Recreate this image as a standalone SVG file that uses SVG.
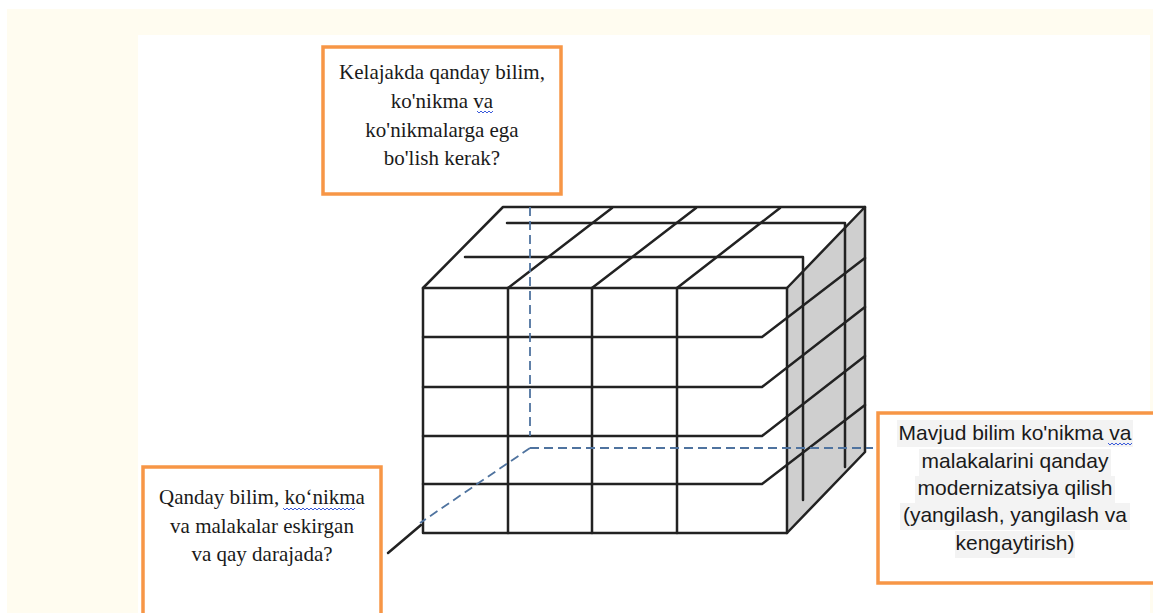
<svg xmlns="http://www.w3.org/2000/svg" width="1153" height="613" viewBox="0 0 1153 613">
<style>
.box{fill:#ffffff;stroke:#f79646;stroke-width:3.5}
.serif{font-family:"Liberation Serif","Times New Roman",serif;font-size:21px;fill:#1a1a1a;text-anchor:middle}
.sans{font-family:"Liberation Sans",Arial,sans-serif;font-size:21px;fill:#1a1a1a;text-anchor:middle}
.edge{fill:none;stroke:#222;stroke-width:2.5;stroke-linejoin:round;stroke-linecap:round}
.dash{fill:none;stroke:#4f739f;stroke-width:1.8;stroke-dasharray:9 5}
.squig{fill:none;stroke:#3b5bdb;stroke-width:1}
.hl{fill:#f3f3f3}
</style>
<rect x="0" y="0" width="1153" height="613" fill="#ffffff"/>
<rect x="7" y="9" width="1146" height="604" fill="#fffcf0"/>
<rect x="138" y="35" width="1012" height="578" fill="#ffffff"/>

<g id="cube">
<polygon points="787,288 865,207 865,452 787,533" fill="#cfcfcf"/>
<polyline class="edge" points="423,288 503,207 865,207 787,288"/>
<line class="edge" x1="508" y1="288" x2="612" y2="208"/>
<line class="edge" x1="592" y1="288" x2="696" y2="208"/>
<line class="edge" x1="677" y1="288" x2="780" y2="208"/>
<polyline class="edge" points="507,223 845,223 845,467"/>
<polyline class="edge" points="465,257 803,257 803,500"/>
<rect class="edge" x="423" y="288" width="364" height="245"/>
<line class="edge" x1="508" y1="288" x2="508" y2="533"/>
<line class="edge" x1="592" y1="288" x2="592" y2="533"/>
<line class="edge" x1="677" y1="288" x2="677" y2="533"/>
<polyline class="edge" points="423,337 762,337 865,258"/>
<polyline class="edge" points="423,387 762,387 865,307"/>
<polyline class="edge" points="423,436 762,436 865,356"/>
<polyline class="edge" points="423,484 762,484 865,405"/>
<polyline class="edge" points="865,207 865,452 787,533"/>
</g>

<g id="connectors">
<line class="dash" x1="530" y1="207" x2="530" y2="436"/>
<line class="dash" x1="530" y1="448" x2="873" y2="448"/>
<line class="dash" x1="530" y1="448" x2="420" y2="523"/>
<line class="edge" x1="421" y1="525" x2="388" y2="553"/>
</g>

<g id="box-future">
<rect class="box" x="323" y="47" width="238" height="147"/>
<text class="serif" x="442" y="79">Kelajakda qanday bilim,</text>
<text class="serif" x="442" y="108">ko'nikma va</text>
<text class="serif" x="442" y="137">ko'nikmalarga ega</text>
<text class="serif" x="442" y="165">bo'lish kerak?</text>
<path class="squig" d="M477,111 l2,2 l2,-2 l2,2 l2,-2 l2,2 l2,-2 l2,2 l2,-2"/>
</g>

<g id="box-outdated">
<rect class="box" x="143" y="467" width="238" height="160"/>
<text class="serif" x="262" y="504">Qanday bilim, ko‘nikma</text>
<text class="serif" x="262" y="533">va malakalar eskirgan</text>
<text class="serif" x="262" y="561">va qay darajada?</text>
<path class="squig" d="M283,508 l2,2 l2,-2 l2,2 l2,-2 l2,2 l2,-2 l2,2 l2,-2 l2,2 l2,-2 l2,2 l2,-2 l2,2 l2,-2 l2,2 l2,-2 l2,2 l2,-2 l2,2 l2,-2 l2,2 l2,-2 l2,2 l2,-2 l2,2 l2,-2 l2,2 l2,-2 l2,2 l2,-2 l2,2 l2,-2 l2,2 l2,-2 l2,2 l2,-2"/>
</g>

<g id="box-modernize">
<rect class="box" x="878" y="413" width="290" height="170"/>
<rect class="hl" x="897" y="420" width="236" height="27"/>
<rect class="hl" x="919" y="449" width="192" height="27"/>
<rect class="hl" x="915" y="476" width="200" height="27"/>
<rect class="hl" x="900" y="503" width="230" height="27"/>
<rect class="hl" x="955" y="531" width="120" height="27"/>
<text class="sans" x="1015" y="440">Mavjud bilim ko'nikma va</text>
<text class="sans" x="1015" y="468">malakalarini qanday</text>
<text class="sans" x="1015" y="495">modernizatsiya qilish</text>
<text class="sans" x="1015" y="522">(yangilash, yangilash va</text>
<text class="sans" x="1015" y="550">kengaytirish)</text>
<path class="squig" d="M1108,443 l2,2 l2,-2 l2,2 l2,-2 l2,2 l2,-2 l2,2 l2,-2 l2,2 l2,-2 l2,2 l2,-2"/>
</g>
</svg>
